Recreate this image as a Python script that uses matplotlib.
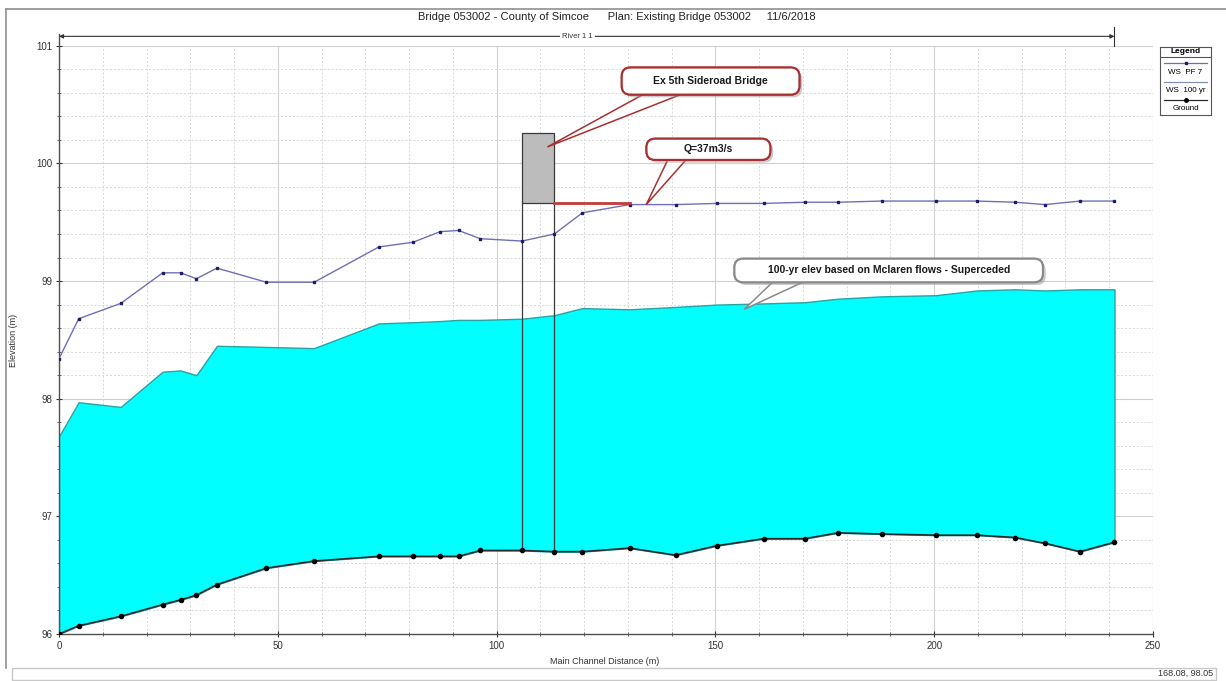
import matplotlib
matplotlib.use('Agg')
import matplotlib.pyplot as plt
from matplotlib.patches import FancyBboxPatch, Polygon, Rectangle
from matplotlib.lines import Line2D
import matplotlib.patheffects as pe
import numpy as np

plt.rcParams['font.family'] = ['Liberation Sans', 'DejaVu Sans']

# data
dist = [0, 4.5, 14.1, 23.7, 27.8, 31.4, 36.1, 47.4, 58.3, 73.1, 80.9, 87.1, 91.3, 96.3,
        105.8, 113.2, 119.6, 130.4, 140.9, 150.3, 161.0, 170.4, 178.0, 188.0, 200.4,
        209.8, 218.5, 225.4, 233.3, 241.2]
ws_pf7 = [98.34, 98.68, 98.81, 99.07, 99.07, 99.02, 99.11, 98.99, 98.99, 99.29, 99.33,
          99.42, 99.43, 99.36, 99.34, 99.40, 99.58, 99.65, 99.65, 99.66, 99.66, 99.67,
          99.67, 99.68, 99.68, 99.68, 99.67, 99.65, 99.68, 99.68]
ws_100yr = [97.68, 97.97, 97.93, 98.23, 98.24, 98.20, 98.45, 98.44, 98.43, 98.64, 98.65,
            98.66, 98.67, 98.67, 98.68, 98.71, 98.77, 98.76, 98.78, 98.80, 98.81, 98.82,
            98.85, 98.87, 98.88, 98.92, 98.93, 98.92, 98.93, 98.93]
ground = [96.00, 96.07, 96.15, 96.25, 96.29, 96.33, 96.42, 96.56, 96.62, 96.66, 96.66,
          96.66, 96.66, 96.71, 96.71, 96.70, 96.70, 96.73, 96.67, 96.75, 96.81, 96.81,
          96.86, 96.85, 96.84, 96.84, 96.82, 96.77, 96.70, 96.78]

bridge_left, bridge_right = 105.8, 113.2
deck_top, low_chord = 100.26, 99.66
red_line_end = 130.4

title = 'Bridge 053002 - County of Simcoe      Plan: Existing Bridge 053002     11/6/2018'

W, H = 1226, 681


def fx(px):
    return px / W


def fy(py):
    return 1 - py / H


fig = plt.figure(figsize=(12.26, 6.81), dpi=100)
ax = fig.add_axes([fx(59), fy(634), fx(1153) - fx(59), fy(34) - fy(634)])
ax.set_xlim(0, 250)
ax.set_ylim(96, 101.1)

# grid (stops at 101)
for x in np.arange(10, 251, 10):
    if x % 50 == 0:
        ax.plot([x, x], [96, 101], color='#d0d0d0', lw=0.8, zorder=0)
    else:
        ax.plot([x, x], [96, 101], color='#d8d8d8', lw=0.7, ls=(0, (2, 2)), zorder=0)
for y in np.arange(96.2, 101.01, 0.2):
    if abs(y - round(y)) < 1e-6:
        ax.plot([0, 250], [y, y], color='#d0d0d0', lw=0.8, zorder=0)
    else:
        ax.plot([0, 250], [y, y], color='#d8d8d8', lw=0.7, ls=(0, (2, 2)), zorder=0)

for s in ['top', 'right']:
    ax.spines[s].set_visible(False)
for s in ['left', 'bottom']:
    ax.spines[s].set_color('#505050')
    ax.spines[s].set_linewidth(1.0)

ax.set_xticks(np.arange(0, 251, 50))
ax.set_xticks(np.arange(0, 251, 10), minor=True)
ax.set_yticks(np.arange(96, 101.01, 1))
ax.set_yticks(np.arange(96, 101.01, 0.2), minor=True)
ax.set_yticklabels(['96', '97', '98', '99', '100', '101'])
ax.tick_params(axis='both', which='major', labelsize=7, colors='#333333', length=4,
               direction='inout', pad=3)
ax.tick_params(axis='both', which='minor', length=3, direction='inout', colors='#555555')

# 100-yr water surface
ax.fill_between(dist, ground, ws_100yr, facecolor='#00ffff', edgecolor='#2aa3a3',
                lw=1.0, zorder=2)

# bridge
gl = np.interp(bridge_left, dist, ground)
gr = np.interp(bridge_right, dist, ground)
ax.add_patch(Rectangle((bridge_left, low_chord), bridge_right - bridge_left,
                       deck_top - low_chord, fc='#bcbcbc', ec='#3a3a3a', lw=0.9, zorder=4))
ax.plot([bridge_left, bridge_left], [gl, low_chord], color='#3a3a3a', lw=0.9, zorder=4)
ax.plot([bridge_right, bridge_right], [gr, low_chord], color='#3a3a3a', lw=0.9, zorder=4)

ax.plot(dist, ground, color='#2a2a2a', lw=1.2, marker='o', ms=3.0, mfc='black',
        mec='black', zorder=5)
ax.plot(dist, ws_pf7, color='#6f6fb5', lw=1.0, marker='s', ms=1.8, mfc='#1c1c6c',
        mec='#1c1c6c', zorder=5)
ax.plot([bridge_right, red_line_end], [low_chord, low_chord], color='#c43a3a', lw=2.0,
        zorder=6)

# river reach line
ax.annotate('', xy=(0, 101.08), xytext=(241.2, 101.08),
            arrowprops=dict(arrowstyle='<|-|>', color='#333333', lw=0.8, mutation_scale=6,
                            shrinkA=0, shrinkB=0),
            annotation_clip=False)
ax.plot([241.2, 241.2], [101.0, 101.16], color='#333333', lw=0.8, clip_on=False)
ax.text(118.5, 101.08, 'River 1 1', ha='center', va='center', fontsize=5.5,
        color='#333333', bbox=dict(fc='white', ec='none', pad=1.5), zorder=6)


def callout(text, cx, cy, w, h, base, tip, ec):
    bottom = cy - h / 2
    poly = Polygon([(base[0], bottom + 0.03), (base[1], bottom + 0.03), tip], closed=True,
                   fc='white', ec=ec, lw=1.1, zorder=7)
    box = FancyBboxPatch((cx - w / 2, bottom), w, h,
                         boxstyle='round,pad=0,rounding_size=2', mutation_aspect=0.037,
                         fc='white', ec=ec, lw=1.5, zorder=8)
    box.set_path_effects([pe.withSimplePatchShadow(offset=(2, -2), shadow_rgbFace='#999999',
                                                   alpha=0.5), pe.Normal()])
    ax.add_patch(poly)
    ax.add_patch(box)
    ax.text(cx, cy, text, ha='center', va='center', fontsize=7.5, fontweight='bold',
            color='#1a1a1a', zorder=9)


callout('Ex 5th Sideroad Bridge', 148.9, 100.70, 40.6, 0.23, (134.9, 144.1),
        (111.6, 100.14), '#a83030')
callout('Q=37m3/s', 148.4, 100.12, 28.3, 0.18, (139.5, 144.0), (134.2, 99.65), '#a83030')
callout('100-yr elev based on Mclaren flows - Superceded', 189.6, 99.09, 70.5, 0.20,
        (163.9, 171.7), (156.6, 98.76), '#8a8a8a')

# legend box
lax = fig.add_axes([fx(1160), fy(115), fx(1211) - fx(1160), fy(46.7) - fy(115)])
lax.set_xlim(0, 1)
lax.set_ylim(0, 1)
lax.set_xticks([])
lax.set_yticks([])
for s in lax.spines.values():
    s.set_color('#555555')
lax.text(0.5, 0.927, 'Legend', ha='center', va='center', fontsize=6, fontweight='bold')
lax.plot([0, 1], [0.85, 0.85], color='#555555', lw=0.8)
lax.plot([0.08, 0.92], [0.757, 0.757], color='#6f6fb5', lw=0.9)
lax.plot([0.5], [0.757], marker='s', ms=1.8, color='#1c1c6c')
lax.text(0.5, 0.619, 'WS  PF 7', ha='center', va='center', fontsize=5.8)
lax.plot([0.08, 0.92], [0.488, 0.488], color='#8090b0', lw=0.9)
lax.text(0.5, 0.366, 'WS  100 yr', ha='center', va='center', fontsize=5.8)
lax.plot([0.08, 0.92], [0.22, 0.22], color='#2a2a2a', lw=0.9)
lax.plot([0.5], [0.22], marker='o', ms=2.5, color='black')
lax.text(0.5, 0.088, 'Ground', ha='center', va='center', fontsize=5.8)

# labels and frame
fig.text(fx(617), fy(17), title, ha='center', va='center', fontsize=8, color='#222222')
fig.text(fx(14), fy(340), 'Elevation (m)', rotation=90, ha='center', va='center',
         fontsize=6.5, color='#333333')
fig.text(fx(605), fy(662), 'Main Channel Distance (m)', ha='center', va='center',
         fontsize=6.5, color='#333333')
fig.text(fx(1213), fy(673), '168.08, 98.05', ha='right', va='center', fontsize=6.5,
         color='#333333')

fig.add_artist(Line2D([fx(6), 1], [fy(9), fy(9)], color='#909090', lw=1.2))
fig.add_artist(Line2D([fx(6), fx(6)], [fy(9), fy(668)], color='#909090', lw=1.2))
fig.add_artist(Rectangle((fx(12), fy(680)), fx(1204), fy(668) - fy(680), fc='white',
                         ec='#c8c8c8', lw=1.0))

fig.savefig('out.png', dpi=100)
